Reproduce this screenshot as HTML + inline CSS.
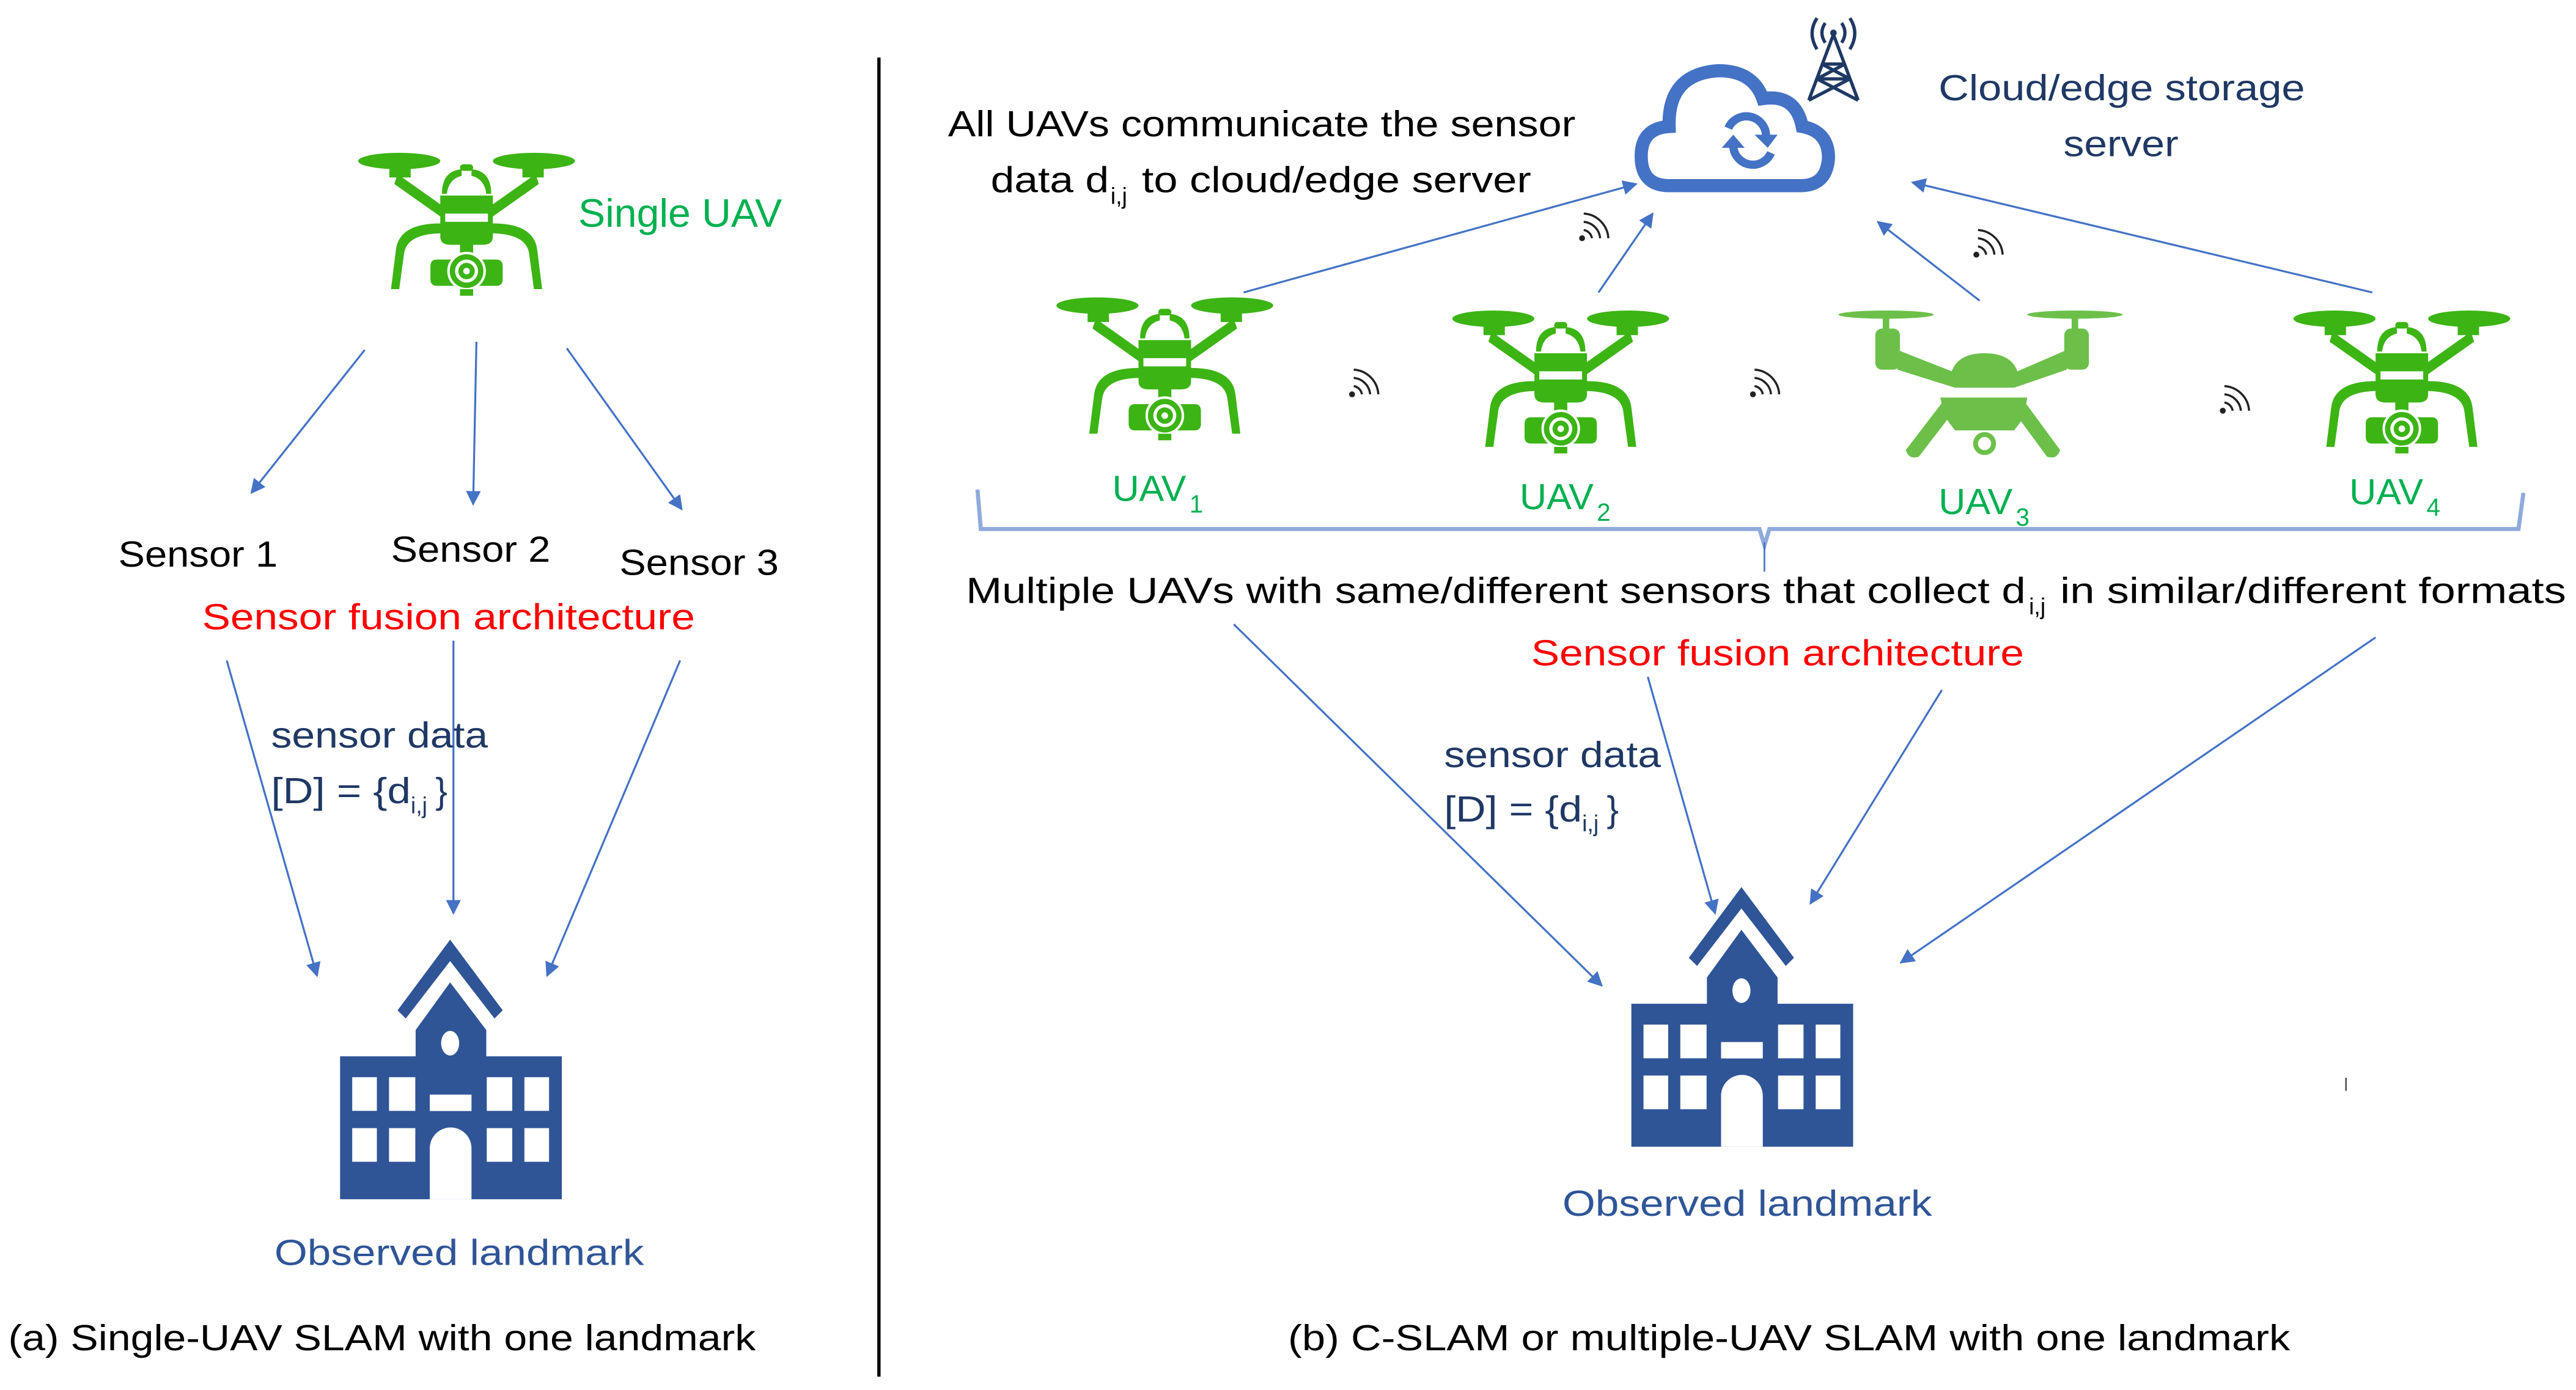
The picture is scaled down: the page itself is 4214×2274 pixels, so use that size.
<!DOCTYPE html>
<html><head><meta charset="utf-8"><style>html,body{margin:0;padding:0;background:#fff}svg{display:block}</style></head>
<body>
<svg xmlns="http://www.w3.org/2000/svg" width="4214" height="2274" viewBox="0 0 1568 846.1" font-family="Liberation Sans, sans-serif" font-size="22">
<defs>
<marker id="ah" viewBox="0 0 10 10" refX="9" refY="5" markerWidth="9" markerHeight="9" markerUnits="userSpaceOnUse" orient="auto"><path d="M0,0L10,5L0,10z" fill="#4472c4"/></marker>
<g id="drone" fill="#3cb414" stroke="none">
<ellipse cx="25" cy="6" rx="25" ry="5"/><ellipse cx="107" cy="6" rx="25" ry="5"/>
<rect x="19" y="10" width="13" height="6"/><rect x="100" y="10" width="13" height="6"/>
<path d="M24,14 L58,38 L56,44 L22,20z M108,14 L74,38 L76,44 L110,20z"/>
<path d="M51,26 Q51,12 63,11 L63,15 Q55,17 54,26z M81,26 Q81,12 69,11 L69,15 Q77,17 78,26z"/>
<rect x="62" y="8" width="8" height="4" rx="2"/>
<path d="M50,27 L82,27 L82,52 Q82,57 76,57 L56,57 Q50,57 50,52z"/>
<rect x="53" y="38" width="26" height="5" fill="#fff"/>
<path d="M50,44 Q25,44 23,60 L20,84 L25,84 L28,62 Q30,50 52,50z M82,44 Q107,44 109,60 L112,84 L107,84 L104,62 Q102,50 80,50z"/>
<rect x="62" y="57" width="8" height="5"/>
<path d="M48,66 L84,66 Q88,66 88,70 L88,78 Q88,82 84,82 L48,82 Q44,82 44,78 L44,70 Q44,66 48,66z"/>
<circle cx="66" cy="73" r="11" fill="#3cb414" stroke="#fff" stroke-width="1.5"/>
<circle cx="66" cy="73" r="7" fill="#fff"/><circle cx="66" cy="73" r="5"/><circle cx="66" cy="73" r="2" fill="#fff"/>
<rect x="62" y="84" width="8" height="4"/>
</g>
<g id="bld" fill="#2f5597">
<polygon points="67,0 99,43 94,48 67,13 40,48 35,43"/>
<polygon points="46,55 67,26 89,55 89,72 46,72"/>
<rect x="0" y="71" width="135" height="87"/>
<ellipse cx="67" cy="63" rx="5.5" ry="7.5" fill="#fff"/>
<g fill="#fff">
<rect x="7.4" y="83.7" width="15" height="20.5"/><rect x="29.8" y="83.7" width="16" height="20.5"/>
<rect x="89.3" y="83.7" width="15.5" height="20.5"/><rect x="112.2" y="83.7" width="15" height="20.5"/>
<rect x="7.4" y="114.7" width="15" height="20.5"/><rect x="29.8" y="114.7" width="16" height="20.5"/>
<rect x="89.3" y="114.7" width="15.5" height="20.5"/><rect x="112.2" y="114.7" width="15" height="20.5"/>
<rect x="54.6" y="94.3" width="25.4" height="10"/>
<path d="M54.6,158 L54.6,127 A12.7,12.7 0 0 1 80,127 L80,158z"/>
</g>
</g>
<g id="wifi" fill="none" stroke="#222" stroke-width="1.3">
<circle cx="0" cy="0" r="1.8" fill="#222" stroke="none"/>
<path d="M1,-5 A6,6 0 0 1 6,0"/><path d="M1,-10 A11,11 0 0 1 11,0"/><path d="M1,-15 A16,16 0 0 1 16,0"/>
</g>
</defs>

<!-- divider -->
<line x1="535" y1="35" x2="535" y2="838" stroke="#000" stroke-width="2"/>

<!-- LEFT -->
<use href="#drone" x="218" y="92"/>
<text x="352" y="138" fill="#00b050" font-size="24" textLength="124" lengthAdjust="spacingAndGlyphs">Single UAV</text>
<g stroke="#4472c4" stroke-width="1.2" marker-end="url(#ah)">
<line x1="222" y1="213" x2="153" y2="300"/><line x1="290" y1="208" x2="288" y2="307"/><line x1="345" y1="212" x2="415" y2="310"/>
<line x1="138" y1="402" x2="193" y2="594"/><line x1="276" y1="390" x2="276" y2="556"/><line x1="414" y1="402" x2="333" y2="594"/>
</g>
<text x="72" y="345" textLength="97" lengthAdjust="spacingAndGlyphs">Sensor 1</text>
<text x="238" y="342" textLength="97" lengthAdjust="spacingAndGlyphs">Sensor 2</text>
<text x="377" y="350" textLength="97" lengthAdjust="spacingAndGlyphs">Sensor 3</text>
<text x="123" y="383" fill="#ff0000" textLength="300" lengthAdjust="spacingAndGlyphs">Sensor fusion architecture</text>
<text x="165" y="455" fill="#1f3864" textLength="132" lengthAdjust="spacingAndGlyphs">sensor data</text>
<text x="165" y="489" fill="#1f3864" textLength="85" lengthAdjust="spacingAndGlyphs">[D] = {d</text>
<text x="250" y="495" fill="#1f3864" font-size="14">i,j</text>
<text x="265" y="489" fill="#1f3864">}</text>
<use href="#bld" x="207" y="572"/>
<text x="167" y="770" fill="#2f5597" textLength="225" lengthAdjust="spacingAndGlyphs">Observed landmark</text>
<text x="5" y="822" textLength="455" lengthAdjust="spacingAndGlyphs">(a) Single-UAV SLAM with one landmark</text>

<!-- RIGHT -->
<text x="577" y="83" textLength="382" lengthAdjust="spacingAndGlyphs">All UAVs communicate the sensor</text>
<text x="603" y="117" textLength="72" lengthAdjust="spacingAndGlyphs">data d</text>
<text x="676" y="124" font-size="14">i,j</text>
<text x="695" y="117" textLength="237" lengthAdjust="spacingAndGlyphs">to cloud/edge server</text>

<!-- cloud -->
<g fill="none" stroke="#4472c4" stroke-width="8">
<path d="M1016,113 Q999,113 999,95 Q999,78 1016,77 Q1015,45 1046,43 Q1067,43 1073,60 Q1093,57 1097,77 Q1113,80 1113,96 Q1112,113 1096,113z"/>
</g>
<g fill="none" stroke="#4472c4" stroke-width="5">
<path d="M1052,78 A12,12 0 0 1 1075,83"/><path d="M1078,93 A12,12 0 0 1 1055,89"/>
</g>
<polygon points="1068,82 1082,82 1076,90" fill="#4472c4"/><polygon points="1062,90 1048,90 1055,82" fill="#4472c4"/>
<!-- tower -->
<g stroke="#1f3864" stroke-width="2" fill="none">
<path d="M1101,61 L1116,21 L1131,61 M1106,48 L1126,48 M1109,39 L1123,39 M1106,48 L1123,39 M1126,48 L1109,39 M1101,61 L1126,48 M1131,61 L1106,48"/>
<path d="M1111,14 Q1107,20 1111,26 M1121,14 Q1125,20 1121,26 M1106,11 Q1100,20 1106,30 M1126,11 Q1132,20 1126,30"/>
</g>
<circle cx="1116" cy="20" r="2" fill="#1f3864"/>
<text x="1180" y="61" fill="#1f3864" textLength="223" lengthAdjust="spacingAndGlyphs">Cloud/edge storage</text>
<text x="1256" y="95" fill="#1f3864" textLength="70" lengthAdjust="spacingAndGlyphs">server</text>

<g stroke="#4472c4" stroke-width="1.2" marker-end="url(#ah)">
<line x1="757" y1="178" x2="996" y2="112"/><line x1="973" y1="178" x2="1006" y2="130"/>
<line x1="1205" y1="183" x2="1143" y2="135"/><line x1="1444" y1="178" x2="1164" y2="111"/>
<line x1="751" y1="380" x2="975" y2="600"/><line x1="1003" y1="412" x2="1044" y2="556"/>
<line x1="1182" y1="420" x2="1102" y2="550"/><line x1="1446" y1="388" x2="1157" y2="586"/>
</g>

<use href="#wifi" x="963" y="145"/><use href="#wifi" x="1203" y="155"/>
<use href="#wifi" x="823" y="240"/><use href="#wifi" x="1067" y="240"/><use href="#wifi" x="1353" y="250"/>

<use href="#drone" x="643" y="180"/>
<use href="#drone" x="884" y="188"/>
<use href="#drone" x="1396" y="188"/>
<!-- UAV3 -->
<g fill="#6cc04a">
<ellipse cx="1148" cy="191.5" rx="29" ry="2.5"/><ellipse cx="1263" cy="191.5" rx="29" ry="2.5"/>
<rect x="1146" y="192" width="4" height="10"/><rect x="1261" y="192" width="4" height="10"/>
<rect x="1141.5" y="200" width="15" height="25" rx="4"/><rect x="1256.5" y="200" width="15" height="25" rx="4"/>
<path d="M1155,213 L1188,226 Q1192,215 1208,215 Q1224,215 1228,226 L1258,213 L1258,225 L1226,236 L1190,236 L1155,225z"/>
<path d="M1181,242 L1234,242 L1232,254 L1226,262 L1190,262 L1184,254z"/>
<path d="M1183,244 L1191,248 L1168,278 Q1162,280 1160,274z M1232,244 L1224,248 L1246,278 Q1252,280 1254,274z"/>
<circle cx="1208" cy="270" r="7"/>
</g>
<circle cx="1208" cy="270" r="4" fill="#fff"/>

<g fill="#00b050">
<text x="677" y="305" textLength="45" lengthAdjust="spacingAndGlyphs">UAV</text><text x="724" y="312" font-size="15">1</text>
<text x="925" y="310" textLength="45" lengthAdjust="spacingAndGlyphs">UAV</text><text x="972" y="317" font-size="15">2</text>
<text x="1180" y="313" textLength="45" lengthAdjust="spacingAndGlyphs">UAV</text><text x="1227" y="320" font-size="15">3</text>
<text x="1430" y="307" textLength="45" lengthAdjust="spacingAndGlyphs">UAV</text><text x="1477" y="314" font-size="15">4</text>
</g>

<!-- bracket -->
<path d="M595,298 L597,322 L1071,322 L1074,332 L1077,322 L1533,322 L1536,300" fill="none" stroke="#8faadc" stroke-width="2.5"/>
<line x1="1074" y1="330" x2="1074" y2="348" stroke="#4472c4" stroke-width="1"/>

<text x="588" y="367" textLength="645" lengthAdjust="spacingAndGlyphs">Multiple UAVs with same/different sensors that collect d</text>
<text x="1235" y="374" font-size="14">i,j</text>
<text x="1254" y="367" textLength="308" lengthAdjust="spacingAndGlyphs">in similar/different formats</text>
<text x="932" y="405" fill="#ff0000" textLength="300" lengthAdjust="spacingAndGlyphs">Sensor fusion architecture</text>
<text x="879" y="467" fill="#1f3864" textLength="132" lengthAdjust="spacingAndGlyphs">sensor data</text>
<text x="879" y="500" fill="#1f3864" textLength="84" lengthAdjust="spacingAndGlyphs">[D] = {d</text>
<text x="963" y="506" fill="#1f3864" font-size="14">i,j</text>
<text x="978" y="500" fill="#1f3864">}</text>
<use href="#bld" x="993" y="540"/>
<text x="951" y="740" fill="#2f5597" textLength="225" lengthAdjust="spacingAndGlyphs">Observed landmark</text>
<line x1="1428" y1="656" x2="1428" y2="664" stroke="#555" stroke-width="1"/>
<text x="784" y="822" textLength="610" lengthAdjust="spacingAndGlyphs">(b) C-SLAM or multiple-UAV SLAM with one landmark</text>
</svg>
</body></html>
